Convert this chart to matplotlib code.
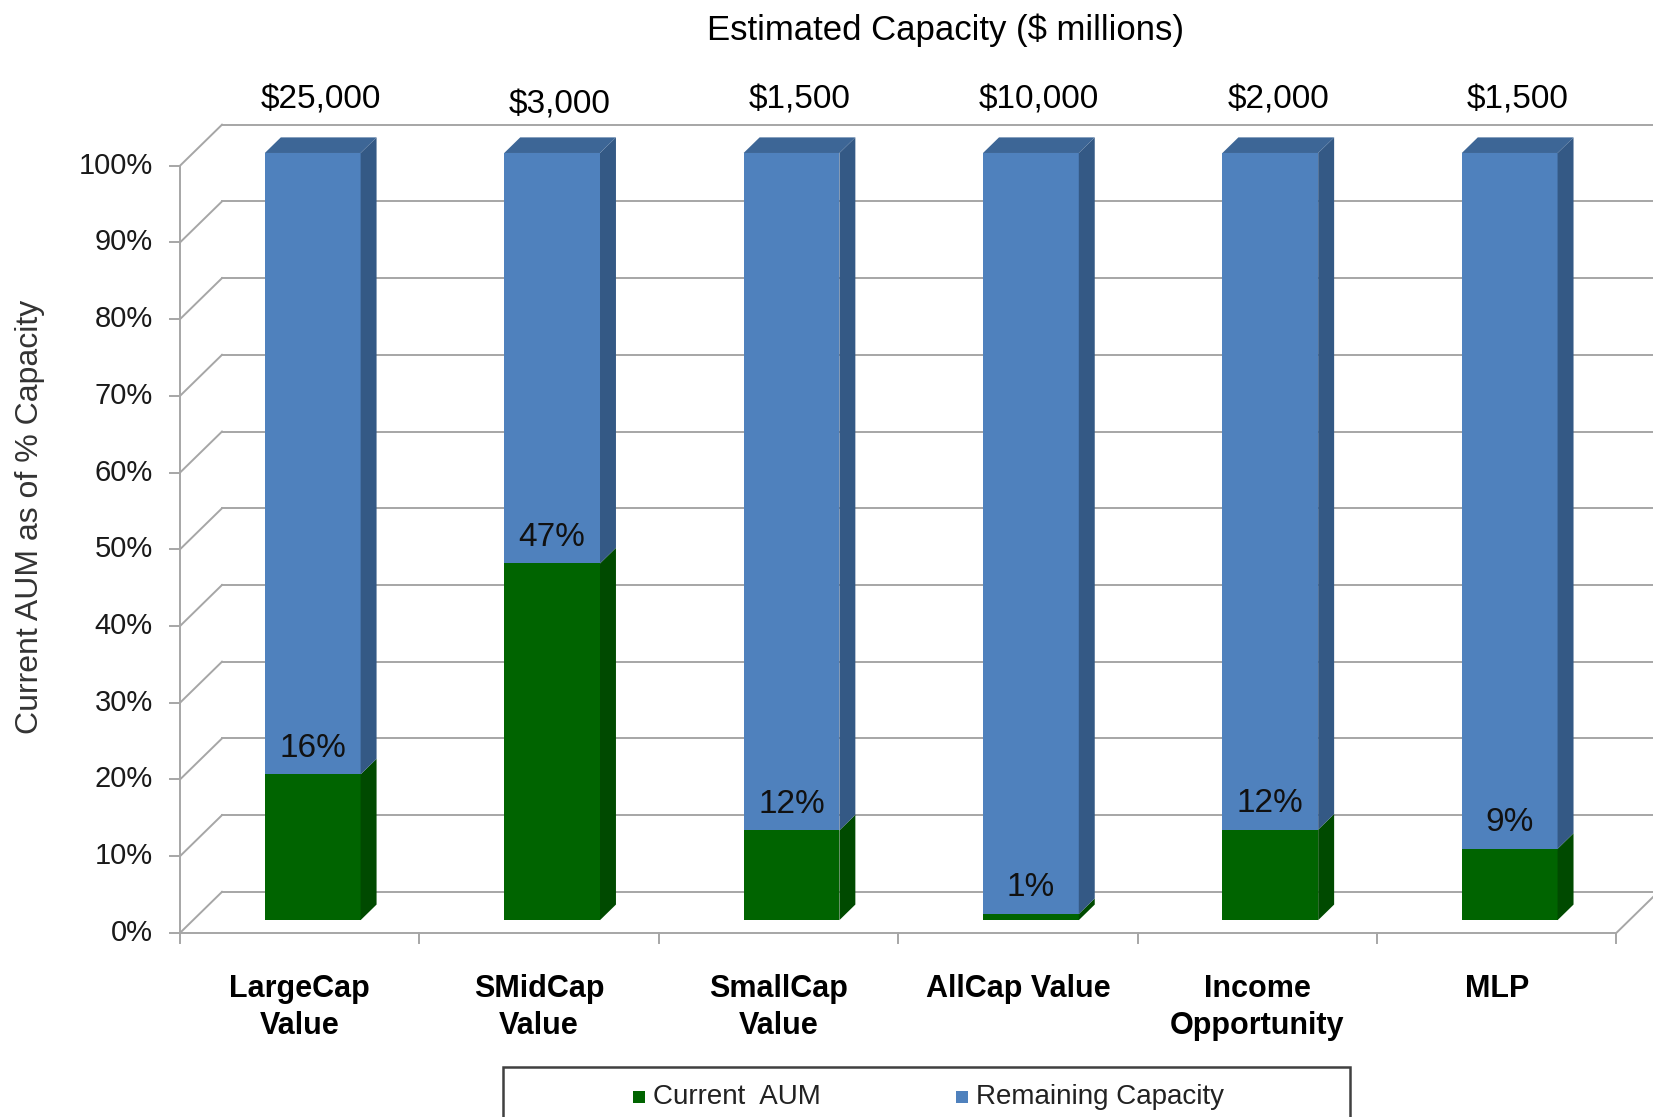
import matplotlib.pyplot as plt
from matplotlib.patches import Rectangle

plt.rcParams['font.family'] = ['Liberation Sans', 'DejaVu Sans']

categories = ['LargeCap\nValue', 'SMidCap\nValue', 'SmallCap\nValue', 'AllCap Value',
              'Income\nOpportunity', 'MLP']
capacity_labels = ['$25,000', '$3,000', '$1,500', '$10,000', '$2,000', '$1,500']
current_aum = [19, 46.5, 11.7, 0.8, 11.8, 9.3]          # bar heights as drawn (%)
aum_labels = ['16%', '47%', '12%', '1%', '12%', '9%']
remaining = [100 - v for v in current_aum]
yticks = list(range(0, 101, 10))

green, green_side = '#006400', '#004a00'
blue, blue_side, blue_top = '#4f81bd', '#345985', '#3d6696'
grid_c = '#a6a6a6'

# pseudo 3-D geometry (category units on x, percent on y)
DX, DY = 0.1754, 5.35          # full depth of the floor / walls
F0, FD = 0.31, 0.38            # bar front offset and bar depth, as fractions of depth
BW = 0.40
n = len(categories)

fig = plt.figure(figsize=(16.53, 11.17), dpi=100)
ax = fig.add_axes([0, 0, 1, 1])
ax.set_xlim(-0.752, 6.153)
ax.set_ylim(-24.0, 121.6)
ax.axis('off')

lw = 1.4
# walls / grid
for y in yticks:
    ax.plot([0, DX], [y, y + DY], color=grid_c, lw=lw, zorder=1)
    ax.plot([DX, n + DX + 1], [y + DY, y + DY], color=grid_c, lw=lw, zorder=1)
    ax.plot([-0.042, 0], [y, y], color=grid_c, lw=lw, zorder=1)
    ax.text(-0.113, y, f'{y}%', ha='right', va='center', fontsize=21, color='#1a1a1a')
ax.plot([0, 0], [0, 100], color=grid_c, lw=lw, zorder=1)
# floor front edge and right edge
ax.plot([0, n], [0, 0], color=grid_c, lw=lw, zorder=1)
ax.plot([n, n + DX], [0, DY], color=grid_c, lw=lw, zorder=1)
for k in range(n + 1):
    ax.plot([k, k], [0, -1.3], color=grid_c, lw=lw, zorder=1)

ox, oy = F0 * DX, F0 * DY
bx, by = FD * DX, FD * DY


def draw_box(xl, xr, b, t, face, side, top=None):
    ax.fill([xl, xr, xr, xl], [b, b, t, t], color=face, lw=0, zorder=3)
    ax.fill([xr, xr + bx, xr + bx, xr], [b, b + by, t + by, t], color=side, lw=0, zorder=3)
    if top is not None:
        ax.fill([xl, xl + bx, xr + bx, xr], [t, t + by, t + by, t], color=top, lw=0, zorder=3)


for k in range(n):
    xc = k + 0.5
    xl, xr = xc - BW / 2 + ox, xc + BW / 2 + ox
    g = current_aum[k]
    draw_box(xl, xr, oy, g + oy, green, green_side)
    draw_box(xl, xr, g + oy, g + remaining[k] + oy, blue, blue_side, blue_top)
    ax.text(xc + ox, g + oy + 3.4, aum_labels[k], ha='center', va='center',
            fontsize=24, color='#111111', zorder=4)
    ax.text(xc + ox + bx / 2, 108.6 if k != 1 else 107.9, capacity_labels[k],
            ha='center', va='center', fontsize=24, color='black')
    ax.text(xc, -5.3, categories[k], ha='center', va='top', fontsize=22,
            fontweight='bold', linespacing=1.32, color='black')

fig.text(0.572, 0.973, 'Estimated Capacity ($ millions)', ha='center', va='center',
         fontsize=25, color='black')
fig.text(0.018, 0.537, 'Current AUM as of % Capacity', rotation=90, ha='center',
         va='center', fontsize=23, color='#333333')

# legend box
fig.patches.append(Rectangle((503 / 1653, -0.02), 847 / 1653, (1117 - 1067) / 1117 + 0.02,
                             transform=fig.transFigure, fill=False, edgecolor='#404040',
                             lw=1.8))
for x0, col, label in [(633, green, 'Current  AUM'), (956, blue, 'Remaining Capacity')]:
    fig.patches.append(Rectangle((x0 / 1653, (1117 - 1103) / 1117), 12 / 1653, 12 / 1117,
                                 transform=fig.transFigure, color=col, lw=0))
    fig.text((x0 + 20) / 1653, (1117 - 1097) / 1117, label, ha='left', va='center',
             fontsize=20, color='#222222')

fig.savefig('out.png', dpi=100)
